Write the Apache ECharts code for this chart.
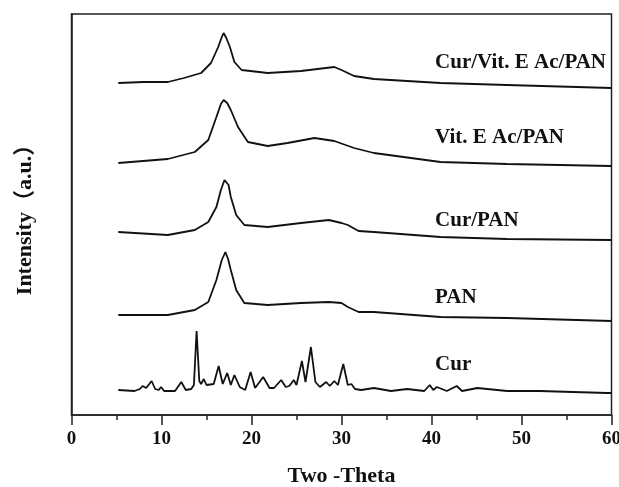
<!DOCTYPE html>
<html>
<head>
<meta charset="utf-8">
<script src="https://cdn.jsdelivr.net/npm/echarts@6/dist/echarts.min.js"></script>
<style>
  html, body { margin: 0; padding: 0; background: #fff; }
  #chart { width: 619px; height: 487px; }
</style>
</head>
<body>
<div id="chart"></div>
<script>
// XRD patterns, stacked with an offset, intensity in a.u. ([2theta, intensity])
const seriesNames = ['Cur/Vit. E Ac/PAN', 'Vit. E Ac/PAN', 'Cur/PAN', 'PAN', 'Cur']

const curVitPan = [
  [5.2, 332], [8, 333], [10.7, 333], [12.5, 337], [14.4, 342], [15.5, 352], [16.3, 368],
  [16.7, 378], [16.9, 382], [17.2, 377], [17.6, 368], [18.1, 353], [18.9, 345],
  [21.8, 342], [25.5, 344], [29.2, 348], [30, 345], [31.4, 339], [33.6, 336],
  [41, 332], [48.4, 330], [60, 327]
]
const vitPan = [
  [5.2, 252], [10.7, 256], [13.7, 263], [15.2, 275], [16.1, 298], [16.6, 311],
  [16.9, 315], [17.3, 312], [17.7, 305], [18.5, 288], [19.6, 273], [21.8, 269],
  [24, 272], [27, 277], [29.2, 274], [31.4, 267], [33.6, 262], [41, 253],
  [48.4, 251], [60, 249]
]
const curPan = [
  [5.2, 183], [10.7, 180], [13.7, 185], [15.2, 193], [16.1, 208], [16.6, 225],
  [17.0, 235], [17.2, 237], [17.45, 230], [17.7, 218], [18.3, 200], [19.2, 190],
  [21.8, 188], [25.5, 192], [28.6, 195], [30, 192], [30.7, 190], [31.9, 184],
  [33.6, 183], [41, 178], [48.4, 176], [60, 175]
]
const pan = [
  [5.2, 100], [10.7, 100], [13.7, 105], [15.2, 113], [16.1, 135], [16.7, 155],
  [17.1, 163], [17.4, 156], [17.7, 145], [18.3, 125], [19.2, 112], [21.8, 110],
  [25.5, 112], [28.6, 113], [30, 112], [30.7, 108], [31.9, 103], [33.6, 103],
  [41, 98], [48.4, 97], [60, 94]
]
const cur = [
  [5.2, 25], [7.0, 24], [7.6, 26], [7.9, 29], [8.3, 27], [8.9, 34], [9.3, 26],
  [9.7, 25], [9.95, 28], [10.3, 24], [11.5, 24], [12.2, 33], [12.7, 25], [13.3, 26],
  [13.6, 30], [13.9, 84], [14.2, 34], [14.4, 31], [14.7, 36], [15.0, 30], [15.2, 28],
  [15.8, 31], [16.35, 49], [16.8, 31], [17.3, 42], [17.7, 30], [18.1, 40], [18.7, 28],
  [19.3, 25], [19.9, 43], [20.4, 27], [21.3, 38], [22.0, 27], [22.5, 27], [23.3, 35],
  [23.8, 28], [24.2, 29], [24.7, 35], [25.0, 30], [25.6, 54], [26.0, 33], [26.6, 68],
  [27.1, 33], [27.6, 28], [28.3, 33], [28.7, 29], [29.2, 34], [29.6, 30], [30.2, 51],
  [30.7, 30], [31.1, 31], [31.5, 26], [32.2, 25], [33.6, 27], [35.5, 24], [37.3, 26],
  [39.2, 24], [39.8, 30], [40.2, 25], [40.6, 28], [41.7, 24], [42.8, 29], [43.4, 24],
  [45.1, 27], [48.4, 24], [52, 24], [59.5, 22], [60, 22]
]
const patterns = [curVitPan, vitPan, curPan, pan, cur]

// where each name sits: [2theta, intensity]
const labelAnchors = [[40.4, 352], [40.4, 277], [40.4, 194], [40.4, 117], [40.4, 50]]

const xTicks = [0, 10, 20, 30, 40, 50, 60]

const dom = document.getElementById('chart')
const myChart = echarts.init(dom)
const serif = '"Liberation Serif", "Times New Roman", "Noto Sans CJK SC", serif'
const ink = '#111'

const option = {
  animation: false,
  grid: {
    left: 71.5,
    right: 7.5,
    top: 14,
    bottom: 72,
    containLabel: false,
    outerBoundsMode: 'none',
    show: true,
    borderColor: '#222',
    borderWidth: 1.5
  },
  xAxis: {
    type: 'value',
    min: xTicks[0],
    max: xTicks[xTicks.length - 1],
    interval: 10,
    name: 'Two -Theta',
    nameLocation: 'middle',
    nameGap: 50,
    nameTextStyle: { fontFamily: serif, fontWeight: 'bold', fontSize: 22, color: ink },
    axisLine: { lineStyle: { color: '#222', width: 1.5 } },
    axisTick: { inside: false, length: 10, lineStyle: { color: '#222', width: 1.5 } },
    minorTick: { show: true, splitNumber: 2, length: 5, lineStyle: { color: '#222', width: 1.5 } },
    splitLine: { show: false },
    axisLabel: {
      margin: 15,
      fontFamily: serif,
      fontWeight: 'bold',
      fontSize: 19,
      color: ink,
      showMaxLabel: true,
      hideOverlap: false
    }
  },
  yAxis: {
    type: 'value',
    min: 0,
    max: 401,
    name: 'Intensity（a.u.）',
    nameLocation: 'middle',
    nameGap: 35,
    nameTextStyle: { fontFamily: serif, fontWeight: 'bold', fontSize: 22, color: ink },
    axisLine: { show: true, lineStyle: { color: '#222', width: 1.5 } },
    axisTick: { show: false },
    axisLabel: { show: false },
    splitLine: { show: false }
  },
  series: patterns.map((data, i) => ({
    name: seriesNames[i],
    type: 'line',
    data: data,
    showSymbol: false,
    lineStyle: { color: ink, width: 1.8 },
    markPoint: {
      symbol: 'circle',
      symbolSize: 0,
      silent: true,
      data: [{ coord: labelAnchors[i] }],
      label: {
        show: true,
        position: 'right',
        distance: 0,
        formatter: seriesNames[i],
        fontFamily: serif,
        fontWeight: 'bold',
        fontSize: 21,
        color: ink
      }
    }
  }))
}

myChart.setOption(option)
</script>
</body>
</html>
